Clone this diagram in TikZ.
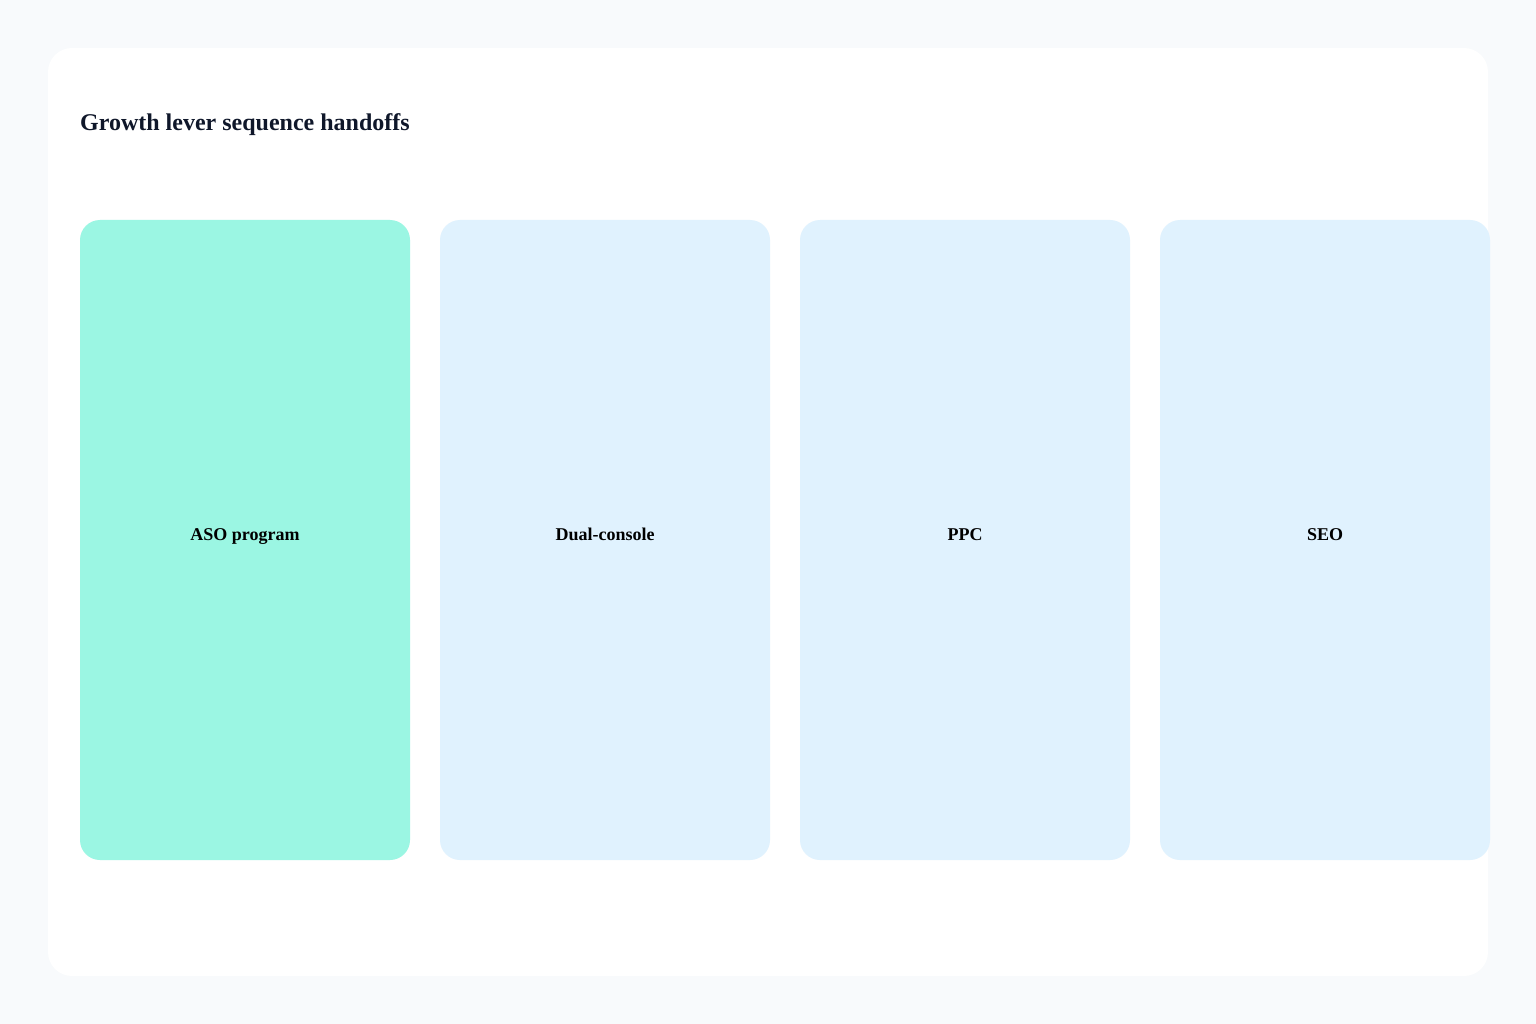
\documentclass[tikz,border=0pt]{standalone}
\usepackage{fontspec}
\setmainfont{Liberation Serif}
\usepackage{tikz}
\usetikzlibrary{positioning}
\definecolor{pagebg}{HTML}{F8FAFC}
\definecolor{titleink}{HTML}{0F172A}
\definecolor{mint}{HTML}{9BF6E3}
\definecolor{skyfill}{HTML}{E0F2FE}
\tikzset{
  card/.style={fill=white,rounded corners=24pt},
  lane/.style={rounded corners=20pt,minimum width=330pt,minimum height=640pt,inner sep=0pt,outer sep=0pt},
  active/.style={lane,fill=mint},
  idle/.style={lane,fill=skyfill},
  lanelabel/.style={anchor=base,font=\fontsize{18}{22}\selectfont\bfseries,text=black},
  every node/.style={font=\small}
}

\begin{document}
\begin{tikzpicture}[x=1pt,y=-1pt]
  % Page and card
  \fill[pagebg] (0,0) rectangle (1536,1024);
  \useasboundingbox (0,0) rectangle (1536,1024);
  \fill[card] (48,48) rectangle (1488,976);

  % Title
  \node[anchor=base west,inner sep=0pt,text=titleink,font=\fontsize{24}{28}\selectfont\bfseries]
    (title) at (80,131) {Growth lever sequence handoffs};

  % Lanes
  \node[active] (aso) at (245,540) {};
  \node[idle,right=30pt of aso] (dual) {};
  \node[idle,right=30pt of dual] (ppc) {};
  \node[idle,right=30pt of ppc] (seo) {};

  % Lane labels
  \node[lanelabel] (asotext) at (aso.center) {ASO program};
  \node[lanelabel] (dualtext) at (dual.center) {Dual-console};
  \node[lanelabel] (ppctext) at (ppc.center) {PPC};
  \node[lanelabel] (seotext) at (seo.center) {SEO};
\end{tikzpicture}
\end{document}
